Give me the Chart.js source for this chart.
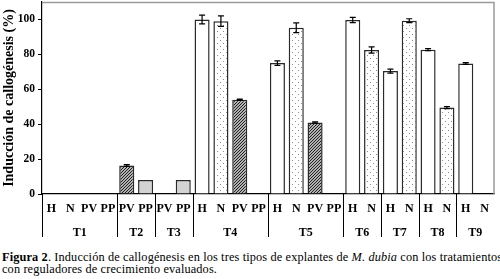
<!DOCTYPE html>
<html>
<head>
<meta charset="utf-8">
<script src="https://cdn.jsdelivr.net/npm/chart.js@4.4.1/dist/chart.umd.min.js"></script>
<style>
  body { margin: 0; background: #fff; width: 500px; height: 279px; overflow: hidden; position: relative; }
  #wrap { position: absolute; left: 0; top: 0; width: 500px; height: 242px; }
  #caption {
    position: absolute; left: 2px; top: 251px; width: 498px; white-space: nowrap;
    font-family: "Liberation Serif", serif; font-size: 12.3px; letter-spacing: 0.14px; line-height: 12px; color: #000;
  }
</style>
</head>
<body>
<div id="wrap"><canvas id="chart" width="500" height="242"></canvas></div>
<div id="caption"><b>Figura 2</b>. Inducción de callogénesis en los tres tipos de explantes de <i>M. dubia</i> con los tratamientos<br>con reguladores de crecimiento evaluados.</div>
<script>
const labels = ['H','N','PV','PP', 'PV','PP', 'PV','PP', 'H','N','PV','PP', 'H','N','PV','PP', 'H','N', 'H','N', 'H','N', 'H','N'];
const groupNames = ['T1','T2','T3','T4','T5','T6','T7','T8','T9'];
const groupSizes = [4, 2, 2, 4, 4, 2, 2, 2, 2];
const values = [0, 0, 0, 0, 16.3, 8, 0, 8, 100, 99, 54, 0, 75, 95.2, 41, 0, 99.7, 82.5, 70.4, 99.3, 82.7, 49.5, 74.8, 0];
const errors = [0, 0, 0, 0, 0.5, 0, 0, 0, 2.5, 3, 0.4, 0, 1.3, 2.8, 0.4, 0, 1.5, 1.8, 1.1, 1.1, 0.6, 0.6, 0.5, 0];

function makePattern(draw, size) {
    const c = document.createElement('canvas');
    c.width = size; c.height = size;
    const g = c.getContext('2d');
    g.fillStyle = '#fff';
    g.fillRect(0, 0, size, size);
    draw(g);
    return g.createPattern(c, 'repeat');
}

const ctx = document.getElementById('chart').getContext('2d');

const dotted = makePattern(g => {
    g.fillStyle = '#8a8a8a';
    g.fillRect(1, 1, 1, 1);
    g.fillRect(4, 4, 1, 1);
}, 6);

const hatched = makePattern(g => {
    g.fillStyle = '#b0b0b0';
    g.fillRect(0, 0, 3, 3);
    g.strokeStyle = '#222';
    g.lineWidth = 1;
    g.beginPath();
    g.moveTo(-1, 4); g.lineTo(4, -1);
    g.moveTo(-1, 1); g.lineTo(1, -1);
    g.moveTo(2, 4); g.lineTo(4, 2);
    g.stroke();
}, 3);

const fills = { H: '#ffffff', N: dotted, PV: hatched, PP: '#d3d3d3' };

const serif = '"Liberation Serif", "Times New Roman", serif';

const frame = {
    id: 'frame',
    afterDraw(chart) {
        const a = chart.chartArea;
        const c = chart.ctx;
        const x = chart.scales.x;
        c.save();
        c.strokeStyle = '#9a9a9a';
        c.lineWidth = 1.5;
        c.beginPath();
        c.moveTo(a.left, a.top + 0.5);
        c.lineTo(a.right, a.top + 0.5);
        c.lineTo(a.right, a.bottom);
        c.stroke();

        // group dividers and labels under the axis
        c.strokeStyle = '#000';
        c.lineWidth = 1;
        c.fillStyle = '#000';
        c.font = 'bold 12px ' + serif;
        c.textAlign = 'center';
        c.textBaseline = 'middle';
        let start = 0;
        const half = (x.getPixelForValue(1) - x.getPixelForValue(0)) / 2;
        groupSizes.forEach((n, gi) => {
            const x0 = x.getPixelForValue(start) - half;
            const x1 = x.getPixelForValue(start + n - 1) + half;
            c.beginPath();
            c.moveTo(Math.round(x0) + 0.5, a.bottom);
            c.lineTo(Math.round(x0) + 0.5, a.bottom + 43);
            c.stroke();
            c.fillText(groupNames[gi], (x0 + x1) / 2, a.bottom + 39);
            start += n;
        });
        c.restore();
    },
    afterDatasetsDraw(chart) {
        const meta = chart.getDatasetMeta(0);
        const y = chart.scales.y;
        const c = chart.ctx;
        c.save();
        c.strokeStyle = '#000';
        c.lineWidth = 1.2;
        errors.forEach((e, i) => {
            if (!e) return;
            const px = meta.data[i].x;
            const top = y.getPixelForValue(values[i] + e);
            const bot = y.getPixelForValue(values[i] - e);
            c.beginPath();
            c.moveTo(px, top); c.lineTo(px, bot);
            c.moveTo(px - 3, top); c.lineTo(px + 3, top);
            c.moveTo(px - 3, bot); c.lineTo(px + 3, bot);
            c.stroke();
        });
        c.restore();
    }
};

new Chart(ctx, {
    type: 'bar',
    data: {
        labels: labels,
        datasets: [{
            data: values,
            backgroundColor: labels.map(l => fills[l]),
            borderColor: '#2a2a2a',
            borderWidth: 1.5,
            barPercentage: 0.8,
            categoryPercentage: 1.0
        }]
    },
    options: {
        responsive: false,
        animation: false,
        devicePixelRatio: 1,
        layout: { padding: { top: 2, right: 6, left: 0, bottom: 0 } },
        plugins: { legend: { display: false }, tooltip: { enabled: false } },
        scales: {
            x: {
                ticks: { color: '#000', font: { family: serif, size: 12, weight: 'bold' }, padding: 0, maxRotation: 0, autoSkip: false },
                grid: { display: false },
                border: { display: true, color: '#000', width: 1.2 },
                afterFit: s => { s.height = 48; s.paddingLeft = 0; s.paddingRight = 0; }
            },
            y: {
                min: 0,
                max: 110,
                ticks: { stepSize: 20, color: '#000', font: { family: serif, size: 11.5, weight: 'bold' }, padding: 3 },
                afterBuildTicks: s => { s.ticks = s.ticks.filter(t => t.value <= 100); },
                grid: { drawOnChartArea: false, drawTicks: true, tickLength: 4, color: '#000' },
                border: { display: true, color: '#000', width: 1.2 },
                title: { display: true, text: 'Inducción de callogénesis (%)', color: '#000', font: { family: serif, size: 14, weight: 'bold' }, padding: { top: 1, bottom: 0 } },
                afterFit: s => { s.width = 42; s.paddingTop = 0; s.paddingBottom = 0; }
            }
        }
    },
    plugins: [frame]
});
</script>
</body>
</html>
